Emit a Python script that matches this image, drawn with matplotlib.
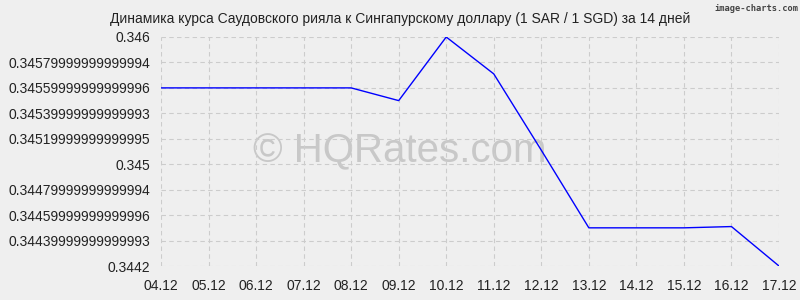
import matplotlib
matplotlib.use('Agg')
import matplotlib.pyplot as plt

plt.rcParams['font.family'] = ['Liberation Sans', 'DejaVu Sans']

dates = ['04.12', '05.12', '06.12', '07.12', '08.12', '09.12', '10.12',
         '11.12', '12.12', '13.12', '14.12', '15.12', '16.12', '17.12']
rates = [0.34560, 0.34560, 0.34560, 0.34560, 0.34560, 0.34550, 0.34600,
         0.34571, 0.34511, 0.34450, 0.34450, 0.34450, 0.34451, 0.34420]
ytick_vals = [0.3442, 0.3444, 0.3446, 0.3448, 0.345, 0.3452, 0.3454, 0.3456, 0.3458, 0.346]
ytick_labels = ['0.3442', '0.34439999999999993', '0.34459999999999996', '0.34479999999999994',
                '0.345', '0.34519999999999995', '0.34539999999999993', '0.34559999999999996',
                '0.34579999999999994', '0.346']
title = 'Динамика курса Саудовского рияла к Сингапурскому доллару (1 SAR / 1 SGD) за 14 дней'

bg = '#efefef'
fig = plt.figure(figsize=(8, 3), dpi=100, facecolor=bg)
ax = fig.add_axes([161 / 800, 34 / 300, 618 / 800, 229 / 300], facecolor=bg)

x = list(range(len(dates)))
ax.plot(x, rates, color='#0000ff', lw=1, zorder=3)

ax.set_xlim(0, len(dates) - 1)
ax.set_ylim(ytick_vals[0], ytick_vals[-1])
ax.set_xticks(x)
ax.set_xticklabels(dates)
ax.set_yticks(ytick_vals)
ax.set_yticklabels(ytick_labels)
ax.tick_params(labelsize=10, length=0, colors='#222222')
ax.tick_params(axis='y', pad=8)
ax.tick_params(axis='x', pad=9)
ax.grid(True, color='#cccccc', ls=(0, (4, 3)), lw=0.8, zorder=0.5)
for s in ax.spines.values():
    s.set_visible(False)

# watermark between grid and line
ax.text(0.387, 0.5, '© HQRates.com', transform=ax.transAxes, ha='center', va='center',
        fontsize=29, color='#c8c8c8', zorder=1)

fig.text(0.5, 0.935, title, ha='center', va='center', fontsize=10, color='#222222')
fig.text(0.9975, 0.972, 'image-charts.com', ha='right', va='center', fontsize=6.3,
         color='#444444', family='DejaVu Sans Mono', weight='bold')

fig.savefig('out.png', dpi=100, facecolor=bg)
